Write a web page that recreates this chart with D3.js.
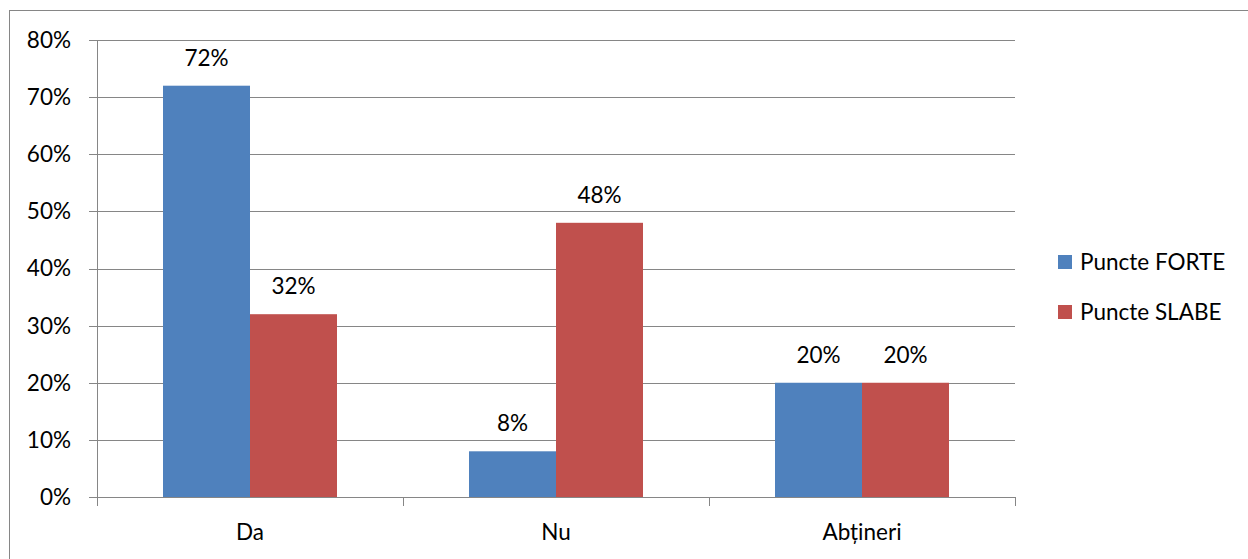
<!DOCTYPE html>
<html><head><meta charset="utf-8">
<script src="https://cdn.jsdelivr.net/npm/d3@7"></script>
<style>body{margin:0;background:#fff}svg{display:block}text{font-family:Lato,"Open Sans",sans-serif;fill:#000}</style>
</head><body>
<svg id="c" width="1248" height="559"></svg>
<script>
const categories = ["Da", "Nu", "Abțineri"];
const seriesNames = ["Puncte FORTE", "Puncte SLABE"];
const forte = [72, 8, 20];
const slabe = [32, 48, 20];
const yTicks = [0, 10, 20, 30, 40, 50, 60, 70, 80];
const colors = ["#4F81BD", "#C0504D"];
const FS = 22.5;

const svg = d3.select("#c");
const L = 97, R = 1015, T = 40, B = 497;
svg.append("rect").attr("x", 9.5).attr("y", 10.5).attr("width", 1300).attr("height", 600)
  .attr("fill", "none").attr("stroke", "#868686");

const y = d3.scaleLinear().domain([0, 80]).range([B, T]);
const x0 = d3.scaleBand().domain(categories).range([L, R]).padding(0);
const bw = x0.bandwidth();
const x1 = d3.scaleBand().domain(seriesNames).range([bw * 0.2157, bw * 0.7843]).padding(0);

// gridlines
svg.append("g").selectAll("line").data(yTicks).join("line")
  .attr("x1", L - 8).attr("x2", R).attr("y1", d => Math.round(y(d)) + 0.5).attr("y2", d => Math.round(y(d)) + 0.5)
  .attr("stroke", "#868686").attr("stroke-width", 1);

// y axis line
svg.append("line").attr("x1", L + 0.5).attr("x2", L + 0.5).attr("y1", T).attr("y2", B + 9).attr("stroke", "#868686");
// x ticks
svg.append("g").selectAll("line").data(d3.range(categories.length + 1)).join("line")
  .attr("x1", i => Math.round(L + i * bw) + 0.5).attr("x2", i => Math.round(L + i * bw) + 0.5)
  .attr("y1", B).attr("y2", B + 9).attr("stroke", "#868686");

// y labels
svg.append("g").selectAll("text").data(yTicks).join("text")
  .attr("x", 71).attr("y", d => y(d)).attr("dy", "0.35em").attr("text-anchor", "end")
  .attr("font-size", FS).text(d => d + "%");

const data = categories.map((c, i) => ({ c, vals: [forte[i], slabe[i]] }));
const g = svg.append("g").selectAll("g").data(data).join("g")
  .attr("transform", d => `translate(${x0(d.c)},0)`);
g.selectAll("rect").data(d => d.vals.map((v, j) => ({ v, s: seriesNames[j], j }))).join("rect")
  .attr("x", d => x1(d.s)).attr("width", x1.bandwidth())
  .attr("y", d => y(d.v)).attr("height", d => B - y(d.v)).attr("fill", d => colors[d.j]);
g.selectAll("text").data(d => d.vals.map((v, j) => ({ v, s: seriesNames[j], j }))).join("text")
  .attr("x", d => x1(d.s) + x1.bandwidth() / 2).attr("y", d => y(d.v) - 20)
  .attr("text-anchor", "middle").attr("font-size", FS).text(d => d.v + "%");

// category labels
svg.append("g").selectAll("text").data(categories).join("text")
  .attr("x", d => x0(d) + bw / 2).attr("y", 540).attr("text-anchor", "middle")
  .attr("font-size", FS).text(d => d);

// legend
const lg = svg.append("g").selectAll("g").data(seriesNames).join("g")
  .attr("transform", (d, i) => `translate(1058,${255 + i * 50})`);
lg.append("rect").attr("width", 14).attr("height", 14).attr("fill", (d, i) => colors[i]);
lg.append("text").attr("x", 22).attr("y", 7).attr("dy", "0.35em").attr("font-size", FS).text(d => d);
</script>
</body></html>
